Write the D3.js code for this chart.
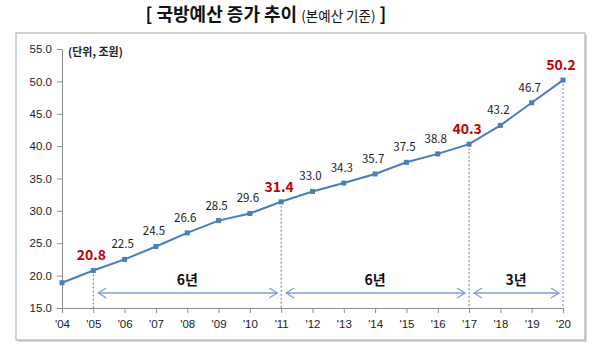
<!DOCTYPE html>
<html><head><meta charset="utf-8">
<script src="https://cdn.jsdelivr.net/npm/d3@7"></script>
<style>body{margin:0;background:#fff;}svg{display:block;font-family:"Noto Sans CJK KR","Noto Sans",sans-serif;}</style>
</head><body><svg id="c" width="600" height="350"></svg>
<script>
const years = ["'04","'05","'06","'07","'08","'09","'10","'11","'12","'13","'14","'15","'16","'17","'18","'19","'20"];
const values = [18.9,20.8,22.5,24.5,26.6,28.5,29.6,31.4,33.0,34.3,35.7,37.5,38.8,40.3,43.2,46.7,50.2];
const highlight = ["'05","'11","'17","'20"];
const yTicks = [15,20,25,30,35,40,45,50,55];
const spans = [{from:"'05",to:"'11",label:"6년"},{from:"'11",to:"'17",label:"6년"},{from:"'17",to:"'20",label:"3년"}];

const svg = d3.select("#c");
// frame with shadow
svg.append("rect").attr("x",18).attr("y",35).attr("width",569).attr("height",307).attr("fill","#d8d8d8");
svg.append("rect").attr("x",16).attr("y",33).attr("width",569).attr("height",307).attr("fill","#fff").attr("stroke","#a6a6a6").attr("stroke-width",1);

// title
const t = svg.append("text").attr("x",266).attr("y",21).attr("text-anchor","middle").attr("fill","#111");
t.append("tspan").attr("font-size",18).attr("font-weight","bold").text("[ 국방예산 증가 추이 ");
t.append("tspan").attr("font-size",13.5).text("(본예산 기준)");
t.append("tspan").attr("font-size",18).attr("font-weight","bold").text(" ]");

const x = d3.scalePoint().domain(years).range([62,563]);
const y = d3.scaleLinear().domain([15,55]).range([308,49]);

// y axis
const ya = svg.append("g").attr("transform","translate(62,0)")
  .call(d3.axisLeft(y).tickValues(yTicks).tickFormat(d3.format(".1f")).tickSize(5).tickSizeOuter(0));
ya.select(".domain").attr("stroke","#8c8c8c");
ya.selectAll(".tick line").attr("stroke","#8c8c8c");
ya.selectAll("text").attr("font-size",11.5).attr("fill","#222").attr("x",-10);

// x axis
const xa = svg.append("g").attr("transform","translate(0,308)")
  .call(d3.axisBottom(x).tickSize(5).tickSizeOuter(0));
xa.select(".domain").attr("stroke","#8c8c8c").attr("d","M58,0.5H563");
xa.selectAll(".tick line").attr("stroke","#8c8c8c");
xa.selectAll("text").attr("font-size",11.5).attr("fill","#222").attr("y",12);

// unit
svg.append("text").attr("x",68).attr("y",56).attr("font-size",11).attr("font-weight","bold").attr("fill","#222").text("(단위, 조원)");

// dashed verticals
highlight.forEach(k=>{
  const i = years.indexOf(k);
  svg.append("line").attr("x1",x(k)).attr("x2",x(k)).attr("y1",y(values[i])).attr("y2",308)
    .attr("stroke","#4a7ebb").attr("stroke-width",1).attr("stroke-dasharray","2,2");
});

// arrows
const ac = "#7f9fcf";
spans.forEach(s=>{
  const x1 = x(s.from)+5, x2 = x(s.to)-4, ay = 293;
  svg.append("line").attr("x1",x1).attr("x2",x2).attr("y1",ay).attr("y2",ay).attr("stroke",ac).attr("stroke-width",1.3);
  svg.append("path").attr("d",`M${x1+8},${ay-5}L${x1},${ay}L${x1+8},${ay+5}`).attr("fill","none").attr("stroke",ac).attr("stroke-width",1.3);
  svg.append("path").attr("d",`M${x2-8},${ay-5}L${x2},${ay}L${x2-8},${ay+5}`).attr("fill","none").attr("stroke",ac).attr("stroke-width",1.3);
  svg.append("text").attr("x",(x(s.from)+x(s.to))/2).attr("y",285).attr("text-anchor","middle")
    .attr("font-size",14).attr("font-weight","bold").attr("fill","#111").text(s.label);
});

// line
const data = years.map((k,i)=>({k,v:values[i]}));
svg.append("path").datum(data).attr("fill","none").attr("stroke","#4a7ebb").attr("stroke-width",2)
  .attr("d",d3.line().x(d=>x(d.k)).y(d=>y(d.v)));
svg.selectAll("rect.m").data(data).enter().append("rect").attr("class","m")
  .attr("x",d=>x(d.k)-2.5).attr("y",d=>y(d.v)-2.5).attr("width",5).attr("height",5).attr("fill","#4a7ebb");

// labels
svg.selectAll("text.lb").data(data.slice(1)).enter().append("text").attr("class","lb")
  .attr("x",d=>x(d.k)-2).attr("y",d=>y(d.v)-(highlight.includes(d.k)?10:11))
  .attr("text-anchor","middle")
  .attr("font-size",d=>highlight.includes(d.k)?14:11.5)
  .attr("font-weight",d=>highlight.includes(d.k)?"bold":"normal")
  .attr("fill",d=>highlight.includes(d.k)?"#c00000":"#222")
  .text(d=>d3.format(".1f")(d.v));
</script></body></html>
